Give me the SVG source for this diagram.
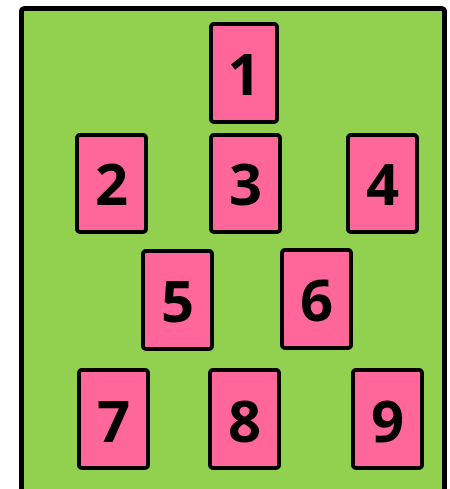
<svg xmlns="http://www.w3.org/2000/svg" width="450" height="489" viewBox="0 0 450 489">
<style>
.card{fill:#FF6699;stroke:#000;stroke-width:4;}
.lbl{font-family:"Open Sans","Noto Sans",sans-serif;font-weight:bold;font-size:58px;fill:#000;text-anchor:middle;}
</style>
<rect x="21.5" y="8.5" width="423" height="500" rx="3" fill="#92D050" stroke="#000" stroke-width="5"/>
<g id="connectors"></g>
<g id="n1"><rect class="card" x="211" y="24" width="66" height="98" rx="3"/><text class="lbl" x="244" y="95">1</text></g>
<g id="n2"><rect class="card" x="77" y="135" width="69" height="97" rx="3"/><text class="lbl" x="111.5" y="205">2</text></g>
<g id="n3"><rect class="card" x="211" y="135" width="69" height="97" rx="3"/><text class="lbl" x="245.5" y="205">3</text></g>
<g id="n4"><rect class="card" x="348" y="135" width="69" height="97" rx="3"/><text class="lbl" x="382.5" y="205">4</text></g>
<g id="n5"><rect class="card" x="143" y="251" width="69" height="98" rx="3"/><text class="lbl" x="177.5" y="322">5</text></g>
<g id="n6"><rect class="card" x="282" y="250" width="69" height="98" rx="3"/><text class="lbl" x="316.5" y="321">6</text></g>
<g id="n7"><rect class="card" x="79" y="370" width="69" height="98" rx="3"/><text class="lbl" x="113.5" y="442">7</text></g>
<g id="n8"><rect class="card" x="210" y="370" width="69" height="98" rx="3"/><text class="lbl" x="244.5" y="442">8</text></g>
<g id="n9"><rect class="card" x="353" y="370" width="69" height="98" rx="3"/><text class="lbl" x="387.5" y="442">9</text></g>
</svg>
